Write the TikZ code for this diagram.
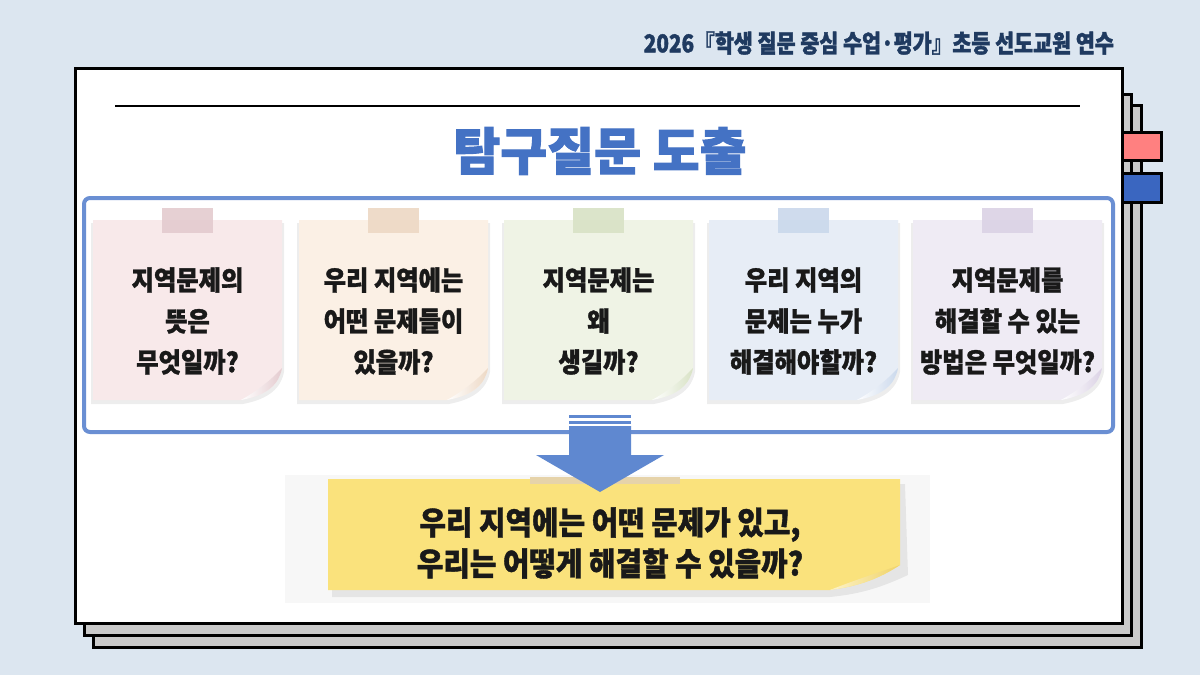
\documentclass[tikz,border=0pt]{standalone}
\usepackage{fontspec}
\newfontfamily\cjk{Noto Sans CJK KR}[FakeStretch=0.9, BoldFeatures={FakeBold=1.2}]
\newfontfamily\cjkhead{Noto Sans CJK KR}[FakeStretch=0.84, BoldFeatures={FakeBold=1.5}]
\newfontfamily\cjkwide{Noto Sans CJK KR}[BoldFeatures={FakeBold=2}]
\usetikzlibrary{positioning}

\definecolor{bgblue}{HTML}{DCE6F0}
\definecolor{navy}{HTML}{1F3A60}
\definecolor{titleblue}{HTML}{4472C4}
\definecolor{frameblue}{HTML}{6A8FD3}
\definecolor{arrowblue}{HTML}{5F88D0}
\definecolor{pagegray}{HTML}{CACACA}
\definecolor{tabred}{HTML}{FF8080}
\definecolor{tabblue}{HTML}{3A66C0}
\definecolor{paperA}{HTML}{F8E9EA}
\definecolor{paperB}{HTML}{FBF0E5}
\definecolor{paperC}{HTML}{EFF3E5}
\definecolor{paperD}{HTML}{E7EDF6}
\definecolor{paperE}{HTML}{EFEBF4}
\definecolor{tapeA}{HTML}{E4CBCF}
\definecolor{tapeB}{HTML}{EDD8C4}
\definecolor{tapeC}{HTML}{D8E2C5}
\definecolor{tapeD}{HTML}{CAD8EC}
\definecolor{tapeE}{HTML}{DBD2E5}
\definecolor{paperY}{HTML}{FAE27C}
\definecolor{curlY}{HTML}{EFD266}
\definecolor{tapeY}{HTML}{E6D3AA}

\begin{document}
\begin{tikzpicture}[
		x=0.5pt, y=-0.5pt,
		page/.style={draw=black, line width=1.5pt},
		tab/.style={draw=black, line width=1.5pt},
		note text/.style={align=center, font=\cjk\bfseries\fontsize{13.5}{20.5}\selectfont, text=black!90},
		goal text/.style={align=center, font=\cjk\bfseries\fontsize{16}{20.5}\selectfont, text=black!90},
		note shadow/.style={black, opacity=0.07}
		]
		\useasboundingbox (0,0) rectangle (1200,675);
		\fill[bgblue] (0,0) rectangle (1200,675);
		
		% =========================================================
		% Header and stacked pages
		% =========================================================
		\node[anchor=east, text=navy, font=\cjkhead\bfseries\fontsize{12.3}{14}\selectfont] (header) at (1121,43) {2026『학생 질문 중심 수업·평가』초등 선도교원 연수};
		
		\draw[page, fill=pagegray] (93,105) rectangle (1141,647);
		\draw[page, fill=pagegray] (84,94) rectangle (1131,635);
		\draw[tab, fill=tabred] (1110,132) rectangle (1161,160);
		\draw[tab, fill=tabblue] (1110,173) rectangle (1161,202);
		\draw[page, fill=white] (75,68) rectangle (1122,623);
		
		% Title with rule
		\draw[line width=1.2pt] (115,106) -- (1080,106);
		\node[text=titleblue, font=\cjkwide\bfseries\fontsize{25.5}{28}\selectfont] (title) at (600,151) {탐구질문 도출};
		
		% =========================================================
		% Five question notes
		% =========================================================
		\draw[frameblue, line width=2pt, rounded corners=3pt] (84,198) rectangle (1113,432);
		
		\foreach \n/\x/\paper/\tape/\txt in {
			1/93/paperA/tapeA/{지역문제의\\뜻은\\무엇일까?},
			2/299/paperB/tapeB/{우리 지역에는\\어떤 문제들이\\있을까?},
			3/504/paperC/tapeC/{지역문제는\\왜\\생길까?},
			4/709/paperD/tapeD/{우리 지역의\\문제는 누가\\해결해야할까?},
			5/913/paperE/tapeE/{지역문제를\\해결할 수 있는\\방법은 무엇일까?}} {
			% shadow and paper
			\fill[note shadow] ({\x-2},223) -- ({\x+191},223) -- ({\x+191},372) .. controls ({\x+188},388) and ({\x+176},399) .. ({\x+150},404) -- ({\x-2},404) -- cycle;
			\fill[\paper] (\x,220) -- ({\x+189},220) -- ({\x+189},368) .. controls ({\x+186},384) and ({\x+175},395) .. ({\x+148},400) -- (\x,400) -- cycle;
			% curled corner
			\shade[left color=white, right color=\tape] ({\x+189},368) .. controls ({\x+186},384) and ({\x+175},395) .. ({\x+148},400) .. controls ({\x+166},390) and ({\x+180},378) .. cycle;
			% tape
			\fill[\tape, opacity=0.9] ({\x+69},208) rectangle ({\x+120},233);
			\node[note text] (q\n) at ({\x+94.5},321) {\txt};
		}
		
		% =========================================================
		% Arrow down to the main question
		% =========================================================
		\fill[black!3] (285,475) rectangle (930,603);
		\fill[note shadow] (332,484) -- (905,484) -- (908,575) .. controls (880,588) and (860,594) .. (830,597) -- (332,597) -- cycle;
		\fill[paperY] (328,479) -- (900,479) -- (900,565) .. controls (880,578) and (860,586) .. (830,590) -- (328,590) -- cycle;
		\shade[left color=paperY!40!white, right color=curlY] (900,565) .. controls (880,578) and (860,586) .. (830,590) .. controls (855,580) and (880,572) .. cycle;
		\fill[tapeY] (530,477) rectangle (680,484);
		
		\fill[arrowblue] (569,415) rectangle (631,418);
		\fill[arrowblue] (569,420.5) rectangle (631,424);
		\fill[arrowblue] (569,426) -- (631,426) -- (631,455) -- (664,455) -- (600,492) -- (536,455) -- (569,455) -- cycle;
		
		\node[goal text] (goal) at (610,543) {우리 지역에는 어떤 문제가 있고,\\우리는 어떻게 해결할 수 있을까?};
		
	\end{tikzpicture}
\end{document}
